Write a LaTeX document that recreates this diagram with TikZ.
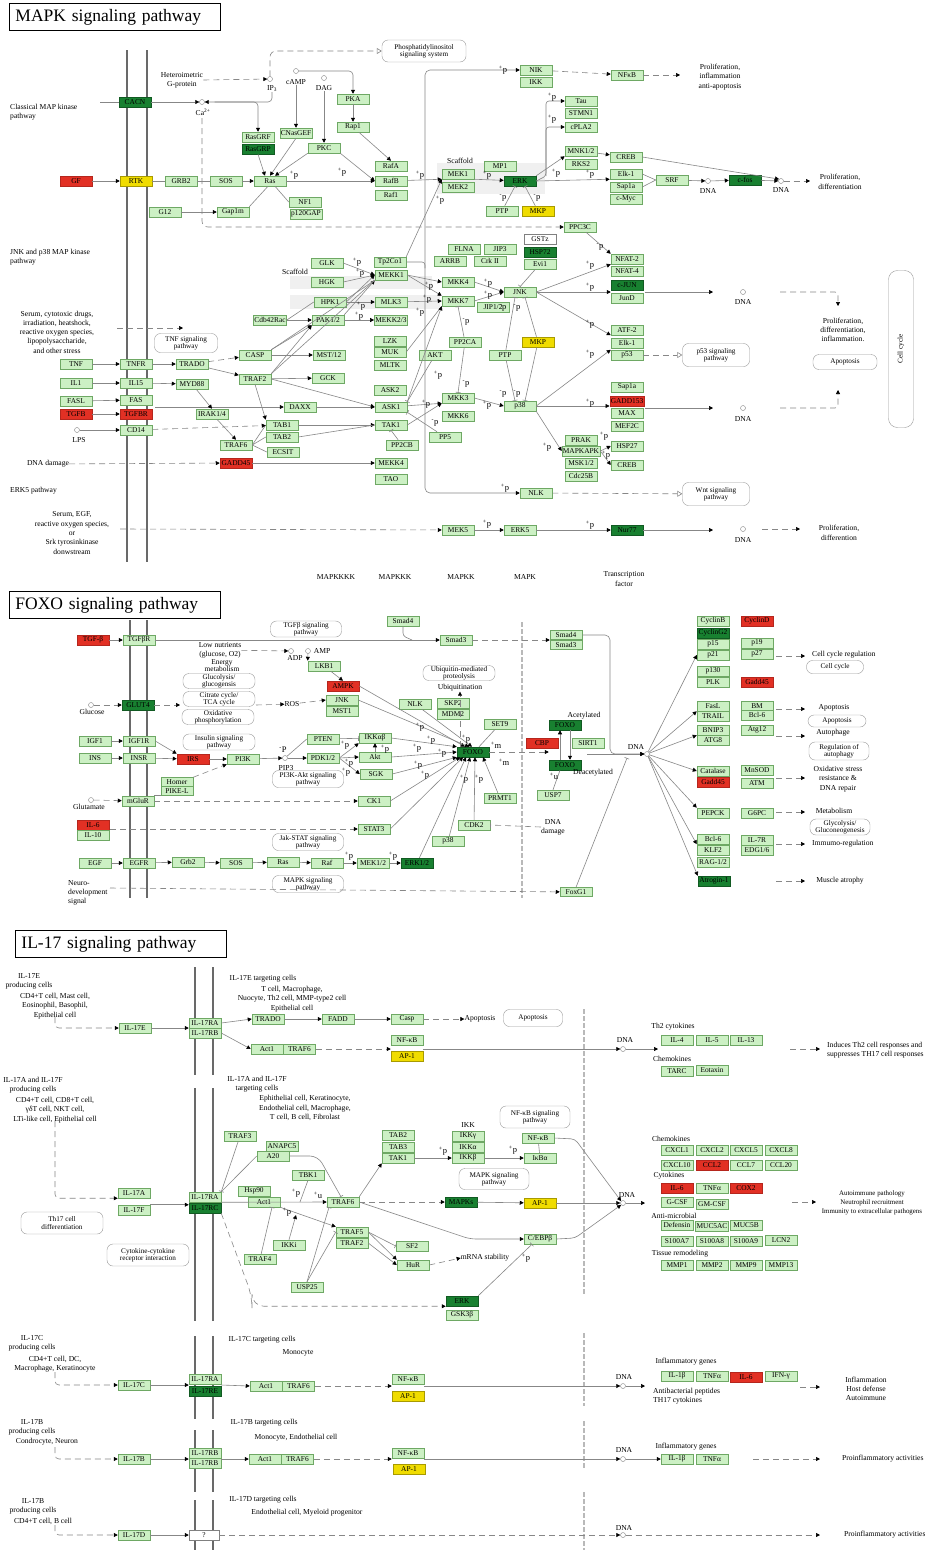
\documentclass[tikz,border=0pt]{standalone}
\usepackage{fontspec}
\setmainfont{Liberation Serif}
\usetikzlibrary{arrows.meta,positioning,shapes.geometric,calc}
\definecolor{kgl}{RGB}{204,240,196}
\definecolor{kgb}{RGB}{110,168,100}
\definecolor{kdg}{RGB}{24,128,48}
\definecolor{krd}{RGB}{226,48,36}
\definecolor{kyl}{RGB}{240,220,0}
\definecolor{kln}{RGB}{135,135,135}
\definecolor{kmb}{RGB}{105,105,105}
\begin{document}
\begin{tikzpicture}[x=1pt,y=-1pt,
  gn/.style={draw=kgb,fill=kgl,line width=0.5pt,minimum width=32pt,minimum height=10pt,inner xsep=1pt,inner ysep=0pt,font=\fontsize{7.4}{8}\selectfont},
  dg/.style={gn,fill=kdg,draw=kdg!70!black},
  rd/.style={gn,fill=krd,draw=krd!80!black},
  yl/.style={gn,fill=kyl,draw=kyl!70!black},
  wt/.style={gn,fill=white,draw=gray},
  pw/.style={draw=gray!80,fill=white,rounded corners=6pt,align=center,inner sep=0.5pt,font=\fontsize{7.2}{7.4}\selectfont},
  lbl/.style={align=center,inner sep=0pt,font=\fontsize{7.6}{9.3}\selectfont},
  ph/.style={inner sep=0pt,font=\fontsize{8.5}{8.5}\selectfont},
  dnac/.style={circle,draw=gray,fill=white,minimum size=5pt,inner sep=0pt},
  ln/.style={draw=kln,line width=0.6pt},
  ar/.style={ln,-{Triangle[length=4pt,width=4pt,color=black]}},
  da/.style={ln,dash pattern=on 6pt off 4pt},
  dar/.style={ar,dash pattern=on 6pt off 4pt},
  inh/.style={ln,-{Bar[width=5pt]}},
  dinh/.style={inh,dash pattern=on 6pt off 4pt},
  dop/.style={da,-{Triangle[open,length=5pt,width=6pt,fill=white]}},
  mb/.style={draw=kmb,line width=2.6pt},
  vd/.style={draw=gray!55,line width=2.6pt,dash pattern=on 5pt off 2pt},
  tl/.style={draw=black,line width=0.9pt,anchor=north west,text width=199pt,align=left,minimum height=27pt,inner xsep=6pt,font=\fontsize{17.5}{20}\selectfont}
]
\fill[white] (0,0) rectangle (925,1550);
\useasboundingbox (0,0) rectangle (925,1550);

% ================= MAPK signaling pathway =================
\node[tl] (m-title) at (9,3) {MAPK signaling pathway};
\draw[mb] (127,50) -- (127,562);
\draw[mb] (147,50) -- (147,562);
\fill[gray!12] (437,163) rectangle (545,194);
\fill[gray!12] (290,276) rectangle (432,289);
\fill[gray!12] (290,295) rectangle (440,309);

\node[lbl,anchor=west,align=left] (m-clt) at (10,112) {Classical MAP kinase\\pathway};
\coordinate (m-c0) at (100,102);
\node[dg] (m-cacn) at (135,102) {CACN};
\node[dnac] (m-ca) at (202,102) {};
\node[lbl] (m-cal) at (203,112) {Ca\textsuperscript{2+}};
\coordinate (m-d0) at (202,118);
\node[lbl] (m-hg) at (182,80) {Heteroimetric\\G-protein};
\node[dnac] (m-ip3) at (270,79) {};
\node[lbl] (m-ip3l) at (272,89) {IP\textsubscript{3}};
\node[pw,minimum width=84pt,minimum height=22pt] (m-pis) at (424,51) {Phosphatidylinositol\\signaling system};
\node[dnac] (m-camp) at (296,71) {};
\node[lbl] (m-campl) at (296,82) {cAMP};
\node[dnac] (m-dag) at (324,78) {};
\node[lbl] (m-dagl) at (324,88) {DAG};
\node[gn] (m-pka) at (353,99) {PKA};
\node[gn] (m-rap1) at (353,127) {Rap1};
\node[gn] (m-rasgrf) at (258,137) {RasGRF};
\node[dg] (m-rasgrp) at (258,149) {RasGRP};
\node[gn] (m-cnas) at (296,133) {CNasGEF};
\node[gn] (m-pkc) at (324,148) {PKC};
\node[rd] (m-gf) at (76,181) {GF};
\node[yl] (m-rtk) at (136,181) {RTK};
\node[gn] (m-grb2) at (181,181) {GRB2};
\node[gn] (m-sos) at (226,181) {SOS};
\node[gn] (m-ras) at (270,181) {Ras};
\node[gn] (m-nf1) at (305,202) {NF1};
\node[gn] (m-p120) at (306,214) {p120GAP};
\node[gn] (m-g12) at (165,212) {G12};
\node[gn] (m-gap1m) at (233,212) {Gap1m};
\node[gn] (m-rafa) at (391,166) {RafA};
\node[gn] (m-rafb) at (391,181) {RafB};
\node[gn] (m-raf1) at (391,195) {Raf1};
\node[lbl] (m-scf1) at (460,161) {Scaffold};
\node[gn] (m-mek1) at (458,174) {MEK1};
\node[gn] (m-mek2) at (458,187) {MEK2};
\node[gn] (m-mp1) at (500,166) {MP1};
\node[dg] (m-erk) at (520,181) {ERK};
\node[gn] (m-ptp1) at (502,211) {PTP};
\node[yl] (m-mkp1) at (538,211) {MKP};
\node[gn] (m-tau) at (581,101) {Tau};
\node[gn] (m-stmn) at (581,113) {STMN1};
\node[gn] (m-cpla) at (581,127) {cPLA2};
\node[gn] (m-mnk) at (581,151) {MNK1/2};
\node[gn] (m-rks2) at (581,164) {RKS2};
\node[gn] (m-creb1) at (626,157) {CREB};
\node[gn] (m-elk1) at (626,174) {Elk-1};
\node[gn] (m-sap1) at (626,187) {Sap1a};
\node[gn] (m-cmyc) at (626,199) {c-Myc};
\node[gn] (m-srf) at (672,180) {SRF};
\node[dnac] (m-dna1) at (708,181) {};
\node[lbl] (m-dna1l) at (708,191) {DNA};
\node[dg] (m-cfos) at (745,180) {c-fos};
\node[dnac] (m-dna2) at (781,181) {};
\node[lbl] (m-dna2l) at (781,190) {DNA};
\coordinate (m-o1) at (810,181);
\node[lbl] (m-pr1) at (840,182) {Proliferation,\\differentiation};
\node[gn] (m-nik) at (536,70) {NIK};
\node[gn] (m-ikk) at (536,82) {IKK};
\node[gn] (m-nfkb) at (627,75) {NFκB};
\coordinate (m-o2) at (680,75);
\node[lbl] (m-pr2) at (720,77) {Proliferation,\\inflammation\\anti-apoptosis};
\node[gn] (m-ppc) at (580,227) {PPC3C};
\coordinate (m-v0) at (425,268);

% JNK and p38
\node[lbl,anchor=west,align=left] (m-jnkt) at (10,257) {JNK and p38 MAP kinase\\pathway};
\node[lbl] (m-scf2) at (295,272) {Scaffold};
\node[gn] (m-glk) at (327,263) {GLK};
\node[gn] (m-hgk) at (327,282) {HGK};
\node[gn] (m-hpk1) at (330,302) {HPK1};
\node[gn] (m-pak) at (328,320) {PAK1/2};
\node[gn] (m-cdc42) at (270,320) {Cdb42Rac};
\node[gn] (m-mst) at (329,355) {MST/12};
\node[gn] (m-gck) at (328,378) {GCK};
\node[gn] (m-tp2) at (390,262) {Tp2Co1};
\node[gn] (m-mekk1) at (391,275) {MEKK1};
\node[gn] (m-mlk3) at (391,302) {MLK3};
\node[gn] (m-mekk23) at (391,320) {MEKK2/3};
\node[gn] (m-lzk) at (390,341) {LZK};
\node[gn] (m-muk) at (390,352) {MUK};
\node[gn] (m-mltk) at (390,365) {MLTK};
\node[gn] (m-ask2) at (390,390) {ASK2};
\node[gn] (m-ask1) at (391,407) {ASK1};
\node[gn] (m-tak1) at (391,425) {TAK1};
\node[gn] (m-pp2cb) at (402,445) {PP2CB};
\node[gn] (m-mekk4) at (391,463) {MEKK4};
\node[gn] (m-tao) at (391,479) {TAO};
\node[gn] (m-flna) at (464,249) {FLNA};
\node[gn] (m-jip3) at (500,249) {JIP3};
\node[gn] (m-arrb) at (450,261) {ARRB};
\node[gn] (m-crk) at (490,261) {Crk II};
\node[wt] (m-gstz) at (540,239) {GSTz};
\node[dg] (m-hsp72) at (540,252) {HSP72};
\node[gn] (m-evi1) at (540,264) {Evi1};
\node[gn] (m-mkk4) at (458,282) {MKK4};
\node[gn] (m-mkk7) at (458,301) {MKK7};
\node[gn] (m-jip12) at (493,307) {JIP1/2};
\node[gn] (m-jnk) at (520,292) {JNK};
\node[gn] (m-pp2ca) at (465,342) {PP2CA};
\node[yl] (m-mkp2) at (538,342) {MKP};
\node[gn] (m-ptp2) at (505,355) {PTP};
\node[gn] (m-akt) at (435,355) {AKT};
\node[gn] (m-mkk3) at (458,398) {MKK3};
\node[gn] (m-mkk6) at (458,416) {MKK6};
\node[gn] (m-pp5) at (445,437) {PP5};
\node[gn] (m-p38) at (520,406) {p38};
\node[gn] (m-nfat2) at (627,259) {NFAT-2};
\node[gn] (m-nfat4) at (627,271) {NFAT-4};
\node[dg] (m-cjun) at (627,285) {c-JUN};
\node[gn] (m-jund) at (627,298) {JunD};
\node[gn] (m-atf2) at (627,330) {ATF-2};
\node[gn] (m-elk2) at (627,343) {Elk-1};
\node[gn] (m-p53) at (627,355) {p53};
\node[gn] (m-sap2) at (627,387) {Sap1a};
\node[rd] (m-gadd153) at (627,401) {GADD153};
\node[gn] (m-max) at (627,413) {MAX};
\node[gn] (m-mef2c) at (627,426) {MEF2C};
\node[gn] (m-prak) at (581,440) {PRAK};
\node[gn] (m-mapkapk) at (581,451) {MAPKAPK};
\node[gn] (m-msk) at (581,463) {MSK1/2};
\node[gn] (m-cdc25b) at (581,476) {Cdc25B};
\node[gn] (m-hsp27) at (627,446) {HSP27};
\node[gn] (m-creb2) at (627,465) {CREB};
\node[gn] (m-nlk) at (536,493) {NLK};
\node[pw,minimum width=67pt,minimum height=23pt] (m-wnt) at (716,494) {Wnt signaling\\pathway};
\node[pw,minimum width=67pt,minimum height=23pt] (m-p53p) at (716,355) {p53 signaling\\pathway};
\coordinate (m-j1) at (645,292);
\coordinate (m-j2) at (713,292);
\node[dnac] (m-dna3) at (743,292) {};
\node[lbl] (m-dna3l) at (743,302) {DNA};
\coordinate (m-q1) at (780,292);
\coordinate (m-q2) at (838,306);
\coordinate (m-g1) at (645,408);
\coordinate (m-g2) at (713,408);
\node[dnac] (m-dna4) at (743,408) {};
\node[lbl] (m-dna4l) at (743,419) {DNA};
\coordinate (m-q3) at (780,408);
\coordinate (m-q4) at (838,390);
\node[lbl] (m-pr3) at (843,330) {Proliferation,\\differentiation,\\inflammation.};
\node[pw,minimum width=64pt,minimum height=15pt] (m-apo) at (845,362) {Apoptosis};
\node[pw,rotate=90,minimum width=157pt,minimum height=25pt,rounded corners=9pt] (m-cc) at (901,349) {Cell cycle};

\node[lbl] (m-stress) at (57,332) {Serum, cytotoxic drugs,\\irradiation, heatshock,\\reactive oxygen species,\\lipopolysaccharide,\\and other stress};
\coordinate (m-s0) at (117,328);
\coordinate (m-s1) at (183,328);
\node[pw,minimum width=63pt,minimum height=19pt] (m-tnfp) at (186,343) {TNF signaling\\pathway};
\node[gn] (m-tnf) at (76,364) {TNF};
\node[gn] (m-tnfr) at (136,364) {TNFR};
\node[gn] (m-trado) at (192,364) {TRADO};
\node[gn] (m-casp) at (255,355) {CASP};
\node[gn] (m-traf2) at (255,379) {TRAF2};
\node[gn] (m-il1) at (76,383) {IL1};
\node[gn] (m-il15) at (136,383) {IL15};
\node[gn] (m-myd88) at (192,384) {MYD88};
\node[gn] (m-fasl) at (76,401) {FASL};
\node[gn] (m-fas) at (136,400) {FAS};
\node[rd] (m-tgfb) at (76,414) {TGFB};
\node[rd] (m-tgfbr) at (136,414) {TGFBR};
\node[gn] (m-irak) at (212,414) {IRAK1/4};
\node[gn] (m-daxx) at (300,407) {DAXX};
\coordinate (m-f0) at (155,407);
\node[dnac] (m-lps) at (77,430) {};
\node[lbl] (m-lpsl) at (79,440) {LPS};
\node[gn] (m-cd14) at (136,430) {CD14};
\node[gn] (m-tab1) at (282,425) {TAB1};
\node[gn] (m-tab2) at (282,437) {TAB2};
\node[gn] (m-ecsit) at (283,452) {ECSIT};
\node[gn] (m-traf6) at (236,445) {TRAF6};
\node[lbl] (m-dnad) at (48,464) {DNA damage};
\node[rd] (m-gadd45) at (236,463) {GADD45};

% ERK5
\node[lbl,anchor=west] (m-erk5t) at (10,491) {ERK5 pathway};
\node[lbl] (m-serum) at (72,533) {Serum, EGF,\\reactive oxygen species,\\or\\Srk tyrosinkinase\\donwstream};
\coordinate (m-e0) at (120,529);
\node[gn] (m-mek5) at (458,530) {MEK5};
\node[gn] (m-erk5) at (520,530) {ERK5};
\node[dg] (m-nur77) at (627,530) {Nur77};
\coordinate (m-n5) at (713,530);
\node[dnac] (m-dna5) at (743,529) {};
\node[lbl] (m-dna5l) at (743,540) {DNA};
\coordinate (m-q5) at (762,529);
\coordinate (m-o5) at (800,529);
\node[lbl] (m-pr5) at (839,533) {Proliferation,\\differention};
\node[lbl] (m-k4) at (336,577) {MAPKKKK};
\node[lbl] (m-k3) at (395,577) {MAPKKK};
\node[lbl] (m-k2) at (461,577) {MAPKK};
\node[lbl] (m-k1) at (525,577) {MAPK};
\node[lbl] (m-tf) at (624,579) {Transcription\\factor};

% MAPK connectors
\draw[ln] (m-c0) -- (m-cacn);
\draw[ar] (m-cacn) -- (m-ca);
\draw[dar] (m-hg.east) -- (m-ip3);
\draw[dop,rounded corners=6] (m-ip3.north) |- (m-pis.west);
\draw[ar,rounded corners=4] (m-ip3l.south) |- (m-ca.east);
\draw[ar,rounded corners=4] ([xshift=10pt]m-ca.east) -| (m-rasgrf.north);
\draw[ar,rounded corners=4] (m-camp.east) -| (m-pka.north);
\draw[ar] (m-campl.south) -- (m-cnas.north);
\draw[ar] (m-dagl.south) -- (m-pkc.north);
\draw[ar] (m-pka) -- (m-rap1);
\draw[ar] (m-rap1) -- (m-rafa.north);
\draw[ar] (m-rasgrp.south) -- ([xshift=-5pt]m-ras.north);
\draw[ar] (m-cnas.south) -- (m-ras.north);
\draw[ar] (m-pkc.south west) -- ([xshift=5pt]m-ras.north);
\draw[ar] (m-pkc.south east) -- (m-rafb.west);
\draw[ar] (m-gf) -- (m-rtk);
\draw[ln] (m-rtk) -- (m-grb2);
\draw[ln] (m-grb2) -- (m-sos);
\draw[ar] (m-sos) -- (m-ras);
\draw[ar] (m-ras) -- (m-rafb);
\draw[ar] (m-g12) -- (m-gap1m);
\draw[ln] (m-gap1m.north east) -- ([xshift=-2pt]m-ras.south);
\draw[ln] (m-nf1.west) -- ([xshift=5pt]m-ras.south);
\draw[dar,rounded corners=6] (m-d0) |- (m-ppc.west);
\draw[ar] (m-rafb) -- (m-mek1.south west);
\draw[ar] (m-tp2.north east) -- (m-mek1.south west);
\draw[ar] (m-mek1.south east) -- (m-erk);
\draw[inh] (m-ptp1) -- ([xshift=-5pt]m-erk.south);
\draw[inh] (m-mkp1) -- ([xshift=5pt]m-erk.south);
\draw[ar] (m-erk.north east) -- (m-mnk.south west);
\draw[ar,rounded corners=3] (m-erk.east) -- (546,176) |- (m-tau.west);
\draw[ar,rounded corners=3] (546,176) |- (m-cpla.west);
\draw[ar] (m-erk.east) -- (m-elk1.south west);
\draw[ar] (m-mnk) -- (m-creb1);
\draw[ar] (m-creb1.east) -- (m-dna2.north west);
\draw[ln] (m-elk1.east) -- (m-srf.west);
\draw[ln] (m-sap1.east) -- (m-srf.west);
\draw[ar] (m-srf) -- (m-dna1);
\draw[ar] (m-dna1) -- (m-cfos);
\draw[ar] (m-cfos) -- (m-dna2);
\draw[dar] (m-dna2) -- (m-o1);
\draw[ar,rounded corners=5] (m-v0) |- (m-nik.west);
\draw[ar,rounded corners=5] (m-v0) |- (m-nlk.west);
\draw[ln,rounded corners=3] (m-tp2.east) -| (m-v0);
\draw[dar] (m-nik) -- (m-nfkb);
\draw[dar] (m-nfkb) -- (m-o2);
\draw[ar] (m-ppc) -- (m-nfat2.north west);

\draw[ar] (m-glk.east) -- (m-mekk1.west);
\draw[ar] (m-hgk.east) -- (m-mekk1.west);
\draw[ar] (m-hpk1.east) -- (m-mekk1.west);
\draw[ar] (m-hpk1.east) -- (m-mlk3.west);
\draw[ar] (m-pak.north east) -- (m-mekk1.south west);
\draw[ar] (m-pak.east) -- (m-mekk23.west);
\draw[ln] (m-cdc42.east) -- (m-hpk1.west);
\draw[ar] (m-cdc42.east) -- (m-pak.west);
\draw[ar] (m-casp.north east) -- (m-pak.south west);
\draw[ln] (m-casp.north east) -- (m-mekk1.south west);
\draw[ln] (m-traf2.north east) -- (m-mekk1.south west);
\draw[ar] (m-traf2.north east) -- (m-pak.south west);
\draw[ar] (m-casp) -- (m-mst);
\draw[ar] (m-traf2) -- (m-gck);
\draw[ar] (m-traf2.east) -- (m-ask1.west);
\draw[ar] (m-traf2.south) -- (m-tab1.north west);
\draw[ar] (m-f0) -- (m-daxx);
\draw[ar] (m-daxx) -- (m-ask1);
\draw[ar] (m-tab1) -- (m-tak1.west);
\draw[ln] (m-tab2.east) -- (m-tak1.west);
\draw[ln] (m-traf6.east) -- (m-tab1.west);
\draw[ln] (m-traf6.east) -- (m-tab2.west);
\draw[ln] (m-traf6.east) -- (m-ecsit.west);
\draw[ar] (m-myd88) -- (m-irak.north);
\draw[ar] (m-irak) -- (m-traf6.north);
\draw[dar] (m-cd14) -- (m-tab1);
\draw[dar] (m-dnad) -- (m-gadd45);
\draw[ar] (m-gadd45) -- (m-mekk4);
\draw[ar] (m-tnf) -- (m-tnfr);
\draw[ar] (m-il1) -- (m-il15);
\draw[ar] (m-fasl) -- (m-fas);
\draw[ar] (m-tgfb) -- (m-tgfbr);
\draw[ar] (m-lps) -- (m-cd14);
\draw[ar] (m-tnfr) -- (m-trado);
\draw[ar] (m-il15) -- (m-myd88);
\draw[dar] (m-trado) -- (m-casp);
\draw[ar] (m-trado) -- (m-traf2);
\draw[dar] (m-s0) -- (m-s1);
\draw[ar] (m-mekk1.east) -- (m-mkk4.west);
\draw[ar] (m-mekk1.east) -- (m-mkk7.north west);
\draw[ar] (m-mlk3) -- (m-mkk7.west);
\draw[ln] (m-muk.east) -- (m-mkk7.south west);
\draw[ar] (m-ask1.north east) -- (m-mkk7.south west);
\draw[inh] (m-akt) -- (m-ask1.north east);
\draw[ar] (m-ask1) -- (m-mkk3.south west);
\draw[ar] (m-tak1.east) -- (m-mkk3.south west);
\draw[inh] (m-pp5) -- (m-ask1.south east);
\draw[inh] (m-pp2cb) -- (m-tak1.south);
\draw[ar] (m-mkk4.east) -- (m-jnk.west);
\draw[ar] (m-mkk7.east) -- (m-jnk.west);
\draw[ar] (m-mkk3.east) -- (m-p38.west);
\draw[inh] (m-evi1) -- (m-jnk.north);
\draw[inh] (m-pp2ca) -- (m-mkk7.south);
\draw[inh] (m-pp2ca) -- (m-mkk3.north);
\draw[inh] (m-ptp2) -- ([xshift=-5pt]m-jnk.south);
\draw[inh] (m-ptp2) -- ([xshift=-5pt]m-p38.north);
\draw[inh] (m-mkp2) -- ([xshift=5pt]m-jnk.south);
\draw[inh] (m-mkp2) -- ([xshift=5pt]m-p38.north);
\draw[ar] (m-jnk.east) -- (m-nfat2.south west);
\draw[ar] (m-jnk.east) -- (m-jnk.east -| m-cjun.west);
\draw[ar] (m-jnk.east) -- (m-atf2.south west);
\draw[ar] (m-p38.east) -- (m-p53.north west);
\draw[ar] (m-p38.east) -- (m-p38.east -| m-gadd153.west);
\draw[ar] (m-p38.south east) -- (m-mapkapk.west);
\draw[ar] (m-mapkapk.east) -- (m-hsp27.west);
\draw[ar] (m-mapkapk.east) -- (m-creb2.west);
\draw[ar] (m-j1) -- (m-j2);
\draw[ar] (m-g1) -- (m-g2);
\draw[dar,rounded corners=3] (m-q1) -| (m-q2);
\draw[dar,rounded corners=3] (m-q3) -| (m-q4);
\draw[dop] (m-p53) -- (m-p53p);
\draw[dop] (m-nlk) -- (m-wnt);
\draw[dar] (m-e0) -- (m-mek5);
\draw[ar] (m-mek5) -- (m-erk5);
\draw[ar] (m-erk5) -- (m-nur77);
\draw[ar] (m-nur77) -- (m-n5);
\draw[dar] (m-q5) -- (m-o5);
\foreach \px/\py in {294/175,342/172,420/175,440/200,487/175,503/70,552/97,552/119,556/173,590/174,505/488,357/262,360/273,361/306,359/316,429/286,427/299,420/312,438/375,426/404,488/283,488/295,487/405,590/265,590/287,590/324,590/354,590/403,547/447,604/436,606/455,487/524,590/525}
  \node[ph] (mp-\px-\py) at (\px,\py) {\textsuperscript{+}p};
\foreach \px/\py in {503/198,537/198,600/247,466/322,466/384,503/308,517/308,503/394,517/394,435/423}
  \node[ph] (mm-\px-\py) at (\px,\py) {\textsuperscript{-}p};

% ================= FOXO signaling pathway =================
\node[tl] (f-title) at (9,591) {FOXO signaling pathway};
\draw[mb] (130,620) -- (130,898);
\draw[mb] (147,620) -- (147,898);
\draw[vd] (522,622) -- (522,898);
\node[rd] (f-tgfb) at (93,640) {TGF-β};
\node[gn] (f-tgfbr) at (139,640) {TGFβR};
\node[pw,minimum width=71pt,minimum height=16pt] (f-tgfp) at (306,629) {TGFβ signaling\\pathway};
\node[gn] (f-smad4) at (403,621) {Smad4};
\node[gn] (f-smad3) at (456,640) {Smad3};
\node[gn,minimum height=9pt] (f-smad4b) at (566,635) {Smad4};
\node[gn,minimum height=9pt,below=0pt of f-smad4b] (f-smad3b) {Smad3};
\node[lbl] (f-low) at (220,650) {Low nutrients\\(glucose, O2)};
\node[dnac] (f-adp) at (291,651) {};
\node[lbl] (f-adpl) at (295,658) {ADP};
\node[dnac] (f-amp) at (308,651) {};
\node[lbl] (f-ampl) at (322,651) {AMP};
\node[gn] (f-lkb1) at (324,666) {LKB1};
\node[rd] (f-ampk) at (343,686) {AMPK};
\node[lbl,font=\fontsize{7.4}{7}\selectfont] (f-enm) at (222,666) {Energy\\metabolism};
\node[pw,minimum width=72pt,minimum height=14pt] (f-gly) at (219,681) {Glucolysis/\\glucogensis};
\node[pw,minimum width=72pt,minimum height=14pt] (f-tca) at (219,699) {Citrate cycle/\\TCA cycle};
\node[pw,minimum width=72pt,minimum height=14pt] (f-oxp) at (218,717) {Oxidative\\phosphorylation};
\node[dnac] (f-glc) at (91,705) {};
\node[lbl] (f-glcl) at (92,712) {Glucose};
\node[dg] (f-glut4) at (138,705) {GLUT4};
\coordinate (f-g1) at (180,705);
\coordinate (f-g2) at (256,705);
\node[lbl] (f-ros) at (292,704) {ROS};
\node[gn] (f-jnk) at (342,700) {JNK};
\node[gn] (f-mst1) at (342,711) {MST1};
\node[gn] (f-igf1) at (95,741) {IGF1};
\node[gn] (f-igf1r) at (139,741) {IGF1R};
\node[gn] (f-ins) at (95,758) {INS};
\node[gn] (f-insr) at (139,758) {INSR};
\node[rd] (f-irs) at (193,759) {IRS};
\node[gn] (f-pi3k) at (243,759) {PI3K};
\node[pw,minimum width=72pt,minimum height=16pt] (f-insp) at (219,742) {Insulin signaling\\pathway};
\node[dnac] (f-pip3) at (285,758) {};
\node[lbl] (f-pip3l) at (286,768) {PIP3};
\node[ph] (f-mp) at (283,750) {\textsuperscript{-}P};
\node[gn] (f-pten) at (323,739) {PTEN};
\node[gn] (f-pdk) at (323,758) {PDK1/2};
\node[gn] (f-ikk) at (375,738) {IKKαβ};
\node[gn] (f-akt) at (375,757) {Akt};
\node[gn] (f-sgk) at (376,774) {SGK};
\node[pw,minimum width=71pt,minimum height=17pt] (f-pi3p) at (308,779) {PI3K-Akt signaling\\pathway};
\node[gn,minimum height=9pt] (f-homer) at (177,782) {Homer};
\node[gn,minimum height=9pt] (f-pikel) at (177,791) {PIKE-L};
\node[dnac] (f-glu) at (91,800) {};
\node[lbl] (f-glul) at (89,807) {Glutamate};
\node[gn] (f-mglur) at (138,801) {mGluR};
\node[gn] (f-ck1) at (374,801) {CK1};
\node[rd] (f-il6) at (93,825) {IL-6};
\node[gn] (f-il10) at (93,835) {IL-10};
\coordinate (f-i0) at (110,829);
\node[gn] (f-stat3) at (374,829) {STAT3};
\node[pw,minimum width=71pt,minimum height=17pt] (f-jakp) at (308,842) {Jak-STAT signaling\\pathway};
\node[gn] (f-egf) at (95,863) {EGF};
\node[gn] (f-egfr) at (139,863) {EGFR};
\node[gn] (f-grb2) at (188,862) {Grb2};
\node[gn] (f-sos) at (236,863) {SOS};
\node[gn] (f-ras) at (283,862) {Ras};
\node[gn] (f-raf) at (327,863) {Raf};
\node[gn] (f-mek) at (373,863) {MEK1/2};
\node[dg] (f-erk) at (417,863) {ERK1/2};
\node[pw,minimum width=71pt,minimum height=17pt] (f-mapkp) at (308,884) {MAPK signaling\\pathway};
\node[lbl,anchor=west,align=left] (f-neuro) at (68,893) {Neuro-\\development\\signal};
\coordinate (f-n0) at (110,888);
\node[gn,minimum height=9pt] (f-foxg1) at (576,892) {FoxG1};
\node[gn] (f-nlk) at (415,704) {NLK};
\node[gn] (f-skp2) at (453,703) {SKP2};
\node[gn] (f-mdm2) at (453,714) {MDM2};
\node[pw,minimum width=72pt,minimum height=15pt] (f-ubp) at (459,673) {Ubiquitin-mediated\\proteolysis};
\node[lbl] (f-ubq) at (460,688) {Ubiquitination};
\node[gn] (f-set9) at (500,724) {SET9};
\node[dg] (f-foxo) at (473,752) {FOXO};
\node[gn] (f-prmt1) at (500,798) {PRMT1};
\node[gn] (f-cdk2) at (474,825) {CDK2};
\node[gn] (f-p38) at (448,841) {p38};
\node[rd] (f-cbp) at (542,743) {CBP};
\node[dg] (f-foxoa) at (565,725) {FOXO};
\node[dg] (f-foxod) at (565,765) {FOXO};
\node[lbl] (f-acet) at (584,716) {Acetylated};
\node[lbl] (f-deac) at (593,773) {Deacetylated};
\node[gn] (f-sirt1) at (588,743) {SIRT1};
\node[gn] (f-usp7) at (553,795) {USP7};
\node[lbl] (f-dnad) at (553,827) {DNA\\damage};
\coordinate (f-k0) at (587,754);
\coordinate (f-k1) at (610,754);
\coordinate (f-k2) at (627,758);
\node[dnac] (f-dna) at (647,754) {};
\node[lbl] (f-dnal) at (636,747) {DNA};
% target genes
\node[gn] (f-cycb) at (713,621) {CyclinB};
\node[dg] (f-cycg2) at (713,633) {CyclinG2};
\node[gn] (f-p15) at (713,644) {p15};
\node[gn] (f-p21) at (713,655) {p21};
\node[gn] (f-p130) at (713,671) {p130};
\node[gn] (f-plk) at (713,682) {PLK};
\node[gn] (f-fasl) at (713,706) {FasL};
\node[gn] (f-trail) at (713,716) {TRAIL};
\node[gn] (f-bnip3) at (713,730) {BNIP3};
\node[gn] (f-atg8) at (713,740) {ATG8};
\node[gn] (f-cat) at (713,771) {Catalase};
\node[rd] (f-gadd1) at (713,782) {Gadd45};
\node[gn] (f-pepck) at (713,813) {PEPCK};
\node[gn] (f-bcl6a) at (713,839) {Bcl-6};
\node[gn] (f-klf2) at (713,850) {KLF2};
\node[gn] (f-rag) at (713,862) {RAG-1/2};
\node[dg] (f-atro) at (714,881) {Atrogin-1};
\node[rd] (f-cycd) at (757,621) {CyclinD};
\node[gn] (f-p19) at (757,643) {p19};
\node[gn] (f-p27) at (757,654) {p27};
\node[rd] (f-gadd2) at (757,682) {Gadd45};
\node[gn] (f-bm) at (757,706) {BM};
\node[gn] (f-bcl6b) at (757,715) {Bcl-6};
\node[gn] (f-atg12) at (757,730) {Atg12};
\node[gn] (f-mnsod) at (757,770) {MnSOD};
\node[gn] (f-atm) at (757,783) {ATM};
\node[gn] (f-g6pc) at (757,813) {G6PC};
\node[gn] (f-il7r) at (757,840) {IL-7R};
\node[gn] (f-edg) at (757,850) {EDG1/6};
\coordinate (f-r1a) at (776,656); \coordinate (f-r1b) at (805,656);
\coordinate (f-r2a) at (776,709); \coordinate (f-r2b) at (805,709);
\coordinate (f-r3a) at (776,736); \coordinate (f-r3b) at (805,736);
\coordinate (f-r4a) at (776,778); \coordinate (f-r4b) at (805,778);
\coordinate (f-r5a) at (776,812); \coordinate (f-r5b) at (805,812);
\coordinate (f-r6a) at (776,844); \coordinate (f-r6b) at (805,844);
\coordinate (f-r7a) at (776,881); \coordinate (f-r7b) at (805,881);
\node[lbl,anchor=west] (f-ccr) at (812,655) {Cell cycle regulation};
\node[pw,minimum width=57pt,minimum height=13pt] (f-cc) at (835,667) {Cell cycle};
\node[lbl] (f-apt) at (834,708) {Apoptosis};
\node[pw,minimum width=58pt,minimum height=12pt] (f-apo) at (837,721) {Apoptosis};
\node[lbl] (f-aut) at (833,733) {Autophage};
\node[pw,minimum width=60pt,minimum height=18pt] (f-rega) at (839,751) {Regulation of\\autophagy};
\node[lbl] (f-oxs) at (838,779) {Oxidative stress\\resistance \&\\DNA repair};
\node[lbl] (f-met) at (834,811) {Metabolism};
\node[pw,minimum width=60pt,minimum height=16pt] (f-glyc) at (840,827) {Glycolysis/\\Gluconeogenesis};
\node[lbl,anchor=west] (f-imm) at (812,844) {Immumo-regulation};
\node[lbl] (f-mus) at (840,881) {Muscle atrophy};

% FOXO connectors
\draw[ar] (f-tgfb) -- (f-tgfbr);
\draw[ar] (f-tgfbr) -- (f-smad3);
\draw[ln,rounded corners=3] (f-smad4.south) -- (403,636) -- (412,640);
\draw[dar] (f-smad3.east) -- (f-smad3.east -| f-smad4b.west);
\draw[ar,rounded corners=5] (f-smad4b.east) -| (f-k1) -- (f-dna.west);
\draw[dar] (f-foxo.east) -- (f-foxo.east -| f-foxoa.west);
\draw[ar] ([xshift=-5pt]f-foxod.north) -- ([xshift=-5pt]f-foxoa.south);
\draw[ar] ([xshift=5pt]f-foxoa.south) -- ([xshift=5pt]f-foxod.north);
\draw[ln] (f-usp7.north) -- ([xshift=-5pt]f-foxod.south);
\draw[ar] (f-k0) -- (f-dna.west);
\draw[inh] (f-foxg1.north) -- (f-k2);
\foreach \t in {f-p21.west,f-fasl.south west,f-bnip3.south west,f-cat.west,f-pepck.north west,f-bcl6a.south west,f-atro.north west}
  \draw[ar] (f-dna) -- (\t);
\foreach \ra/\rb in {f-r1a/f-r1b,f-r2a/f-r2b,f-r3a/f-r3b,f-r4a/f-r4b,f-r5a/f-r5b,f-r6a/f-r6b,f-r7a/f-r7b}
  \draw[dar] (\ra) -- (\rb);
\draw[dar] (f-low) -- (f-adp);
\draw[ar] (f-amp) -- (f-lkb1.north west);
\draw[ar] (f-lkb1) -- (f-ampk.north);
\draw[ar] (f-ampk.east) -- ([xshift=-8pt]f-foxo.north);
\draw[ar] (f-jnk.east) -- ([xshift=-4pt]f-foxo.north);
\draw[ar] (f-nlk) -- ([xshift=-1pt]f-foxo.north);
\draw[dar] ([xshift=-13pt]f-foxo.north) -- (f-ubq.south);
\draw[ln] (f-set9) -- ([xshift=6pt]f-foxo.north);
\draw[ar] (f-prmt1) -- ([xshift=10pt]f-foxo.south);
\draw[ar] (f-cdk2) -- ([xshift=2pt]f-foxo.south);
\draw[ar] (f-p38) -- ([xshift=-3pt]f-foxo.south);
\draw[ar] (f-erk) -- ([xshift=-7pt]f-foxo.south);
\draw[ar] (f-stat3.east) -- ([xshift=-10pt]f-foxo.south);
\draw[ar] (f-ck1.east) -- ([xshift=-13pt]f-foxo.south);
\draw[ar] (f-sgk.east) -- (f-foxo.south west);
\draw[ar] (f-akt.east) -- (f-foxo.west);
\draw[ar] (f-ikk.east) -- (f-foxo.north west);
\draw[ar] (f-egf) -- (f-egfr);
\draw[ar] (f-egfr) -- (f-grb2);
\draw[ar] (f-grb2) -- (f-sos);
\draw[ar] (f-sos) -- (f-ras);
\draw[ar] (f-ras) -- (f-raf);
\draw[ar] (f-raf) -- (f-mek);
\draw[ar] (f-mek) -- (f-erk);
\draw[dar] (f-n0) -- (f-foxg1);
\draw[dar] (f-glu) -- (f-mglur);
\draw[dar] (f-mglur) -- (f-ck1);
\draw[ln] (f-mglur.north east) -- (f-pikel.south west);
\draw[dar] (f-homer.north east) -- (f-pi3k.south west);
\draw[dar] (f-glc) -- (f-glut4);
\draw[dar] (f-glut4) -- (f-g1);
\draw[dar] (f-g2) -- (f-ros);
\draw[dar] (f-ros) -- (f-jnk.west);
\draw[ar] (f-igf1) -- (f-igf1r);
\draw[ar] (f-ins) -- (f-insr);
\draw[ar] (f-igf1r.east) -- (f-irs.north west);
\draw[ar] (f-insr) -- (f-irs);
\draw[ar] (f-irs) -- (f-pi3k);
\draw[ar] (f-pi3k) -- (f-pip3);
\draw[ar] (f-pip3) -- (f-pdk);
\draw[ln] (f-pip3) -- (f-pten.west);
\draw[inh] (f-pten) -- (f-ikk);
\draw[ar] (f-pdk.east) -- (f-ikk.south west);
\draw[ar] (f-pdk.east) -- (f-akt.west);
\draw[ar] (f-pdk.east) -- (f-sgk.west);
\draw[ar] (f-akt.north) -- (f-ikk.south);
\draw[dar] (f-i0) -- (f-stat3);
\draw[dinh] (f-dnad.west) -- (f-cdk2.east);
\foreach \px/\py in {349/856,393/856,420/727,431/740,417/748,442/753,418/765,425/775,464/779,479/779,345/745,349/763,346/772,385/749,466/739}
  \node[ph] (fp-\px-\py) at (\px,\py) {\textsuperscript{+}p};
\node[ph] (f-m1) at (496,745) {\textsuperscript{+}m};
\node[ph] (f-m2) at (504,762) {\textsuperscript{+}m};
\node[ph] (f-u1) at (554,776) {\textsuperscript{+}u};

% ================= IL-17 signaling pathway =================
\node[tl] (i-title) at (15,930) {IL-17 signaling pathway};
\foreach \ya/\yb in {967/1075,1088/1321,1336/1419,1430/1492,1500/1550}
  {\draw[mb] (195,\ya) -- (195,\yb); \draw[mb] (213,\ya) -- (213,\yb);}
\foreach \ya/\yb in {1009/1295,1333/1406,1421/1468,1492/1550}
  \draw[vd] (584,\ya) -- (584,\yb);

% IL-17E
\node[lbl] (i-et) at (29,981) {IL-17E\\producing cells};
\node[lbl] (i-esrc) at (55,1006) {CD4+T cell, Mast cell,\\Eosinophil, Basophil,\\Epithelial cell};
\coordinate (i-e0) at (55,1017);
\node[gn] (i-il17e) at (135,1028) {IL-17E};
\node[gn] (i-ra1) at (205,1023) {IL-17RA};
\node[gn] (i-rb1) at (205,1033) {IL-17RB};
\node[lbl] (i-ett) at (263,979) {IL-17E targeting cells};
\node[lbl] (i-etc) at (292,999) {T cell, Macrophage,\\Nuocyte, Th2 cell, MMP-type2 cell\\Epithelial cell};
\node[gn] (i-trado) at (268,1019) {TRADO};
\node[gn] (i-fadd) at (338,1019) {FADD};
\node[gn] (i-casp) at (407,1019) {Casp};
\node[lbl] (i-apot) at (480,1019) {Apoptosis};
\node[pw,minimum width=59pt,minimum height=17pt] (i-apo) at (533,1018) {Apoptosis};
\node[gn] (i-act1a) at (267,1049) {Act1};
\node[gn,anchor=west] (i-traf6a) at (i-act1a.east) {TRAF6};
\node[gn] (i-nfkb1) at (407,1040) {NF-κB};
\node[yl] (i-ap1a) at (407,1056) {AP-1};
\node[dnac] (i-dna1) at (623,1049) {};
\node[lbl] (i-dna1l) at (625,1040) {DNA};
\coordinate (i-o1) at (658,1049);
\node[lbl] (i-th2) at (673,1027) {Th2 cytokines};
\node[gn] (i-il4) at (677,1040) {IL-4};
\node[gn] (i-il5) at (712,1040) {IL-5};
\node[gn] (i-il13) at (746,1040) {IL-13};
\node[lbl] (i-chem1) at (672,1059) {Chemokines};
\node[gn] (i-tarc) at (677,1071) {TARC};
\node[gn] (i-eotx) at (712,1070) {Eotaxin};
\coordinate (i-q1) at (790,1049);
\coordinate (i-q2) at (820,1049);
\node[lbl,anchor=west,align=left] (i-ind) at (827,1050) {Induces Th2 cell responses and\\suppresses TH17 cell responses};
\draw[dar,rounded corners=4] (i-e0) |- (i-il17e.west);
\draw[ar] (i-il17e.east) -- (i-il17e.east -| i-ra1.west);
\draw[ar] (i-ra1.east) -- (i-trado.west);
\draw[ar] (i-rb1.east) -- (i-act1a.west);
\draw[ar] (i-trado) -- (i-fadd);
\draw[ar] (i-fadd) -- (i-casp);
\draw[dar] (i-casp) -- (i-apot);
\draw[dar] (i-traf6a.east) -- (i-traf6a.east -| i-nfkb1.west);
\draw[ar] (i-nfkb1.east |- i-dna1) -- (i-dna1);
\draw[ar] (i-dna1) -- (i-o1);
\draw[dar] (i-q1) -- (i-q2);

% IL-17A and IL-17F
\node[lbl] (i-at) at (33,1085) {IL-17A and IL-17F\\producing cells};
\node[lbl] (i-asrc) at (55,1110) {CD4+T cell, CD8+T cell,\\γδT cell, NKT cell,\\LTi-like cell, Epithelial cell};
\coordinate (i-a0) at (55,1121);
\node[gn] (i-il17a) at (134,1193) {IL-17A};
\node[gn] (i-il17f) at (134,1210) {IL-17F};
\node[gn] (i-ra2) at (205,1197) {IL-17RA};
\node[dg] (i-rc2) at (205,1208) {IL-17RC};
\node[pw,minimum width=82pt,minimum height=22pt] (i-th17) at (62,1223) {Th17 cell\\differentiation};
\node[pw,minimum width=82pt,minimum height=22pt] (i-ccri) at (148,1255) {Cytokine-cytokine\\receptor interaction};
\node[lbl] (i-att) at (257,1084) {IL-17A and IL-17F\\targeting cells};
\node[lbl] (i-atc) at (305,1108) {Ephithelial cell, Keratinocyte,\\Endothelial cell, Macrophage,\\T cell, B cell, Fibrolast};
\node[gn] (i-traf3) at (240,1136) {TRAF3};
\node[gn] (i-anapc5) at (282,1146) {ANAPC5};
\node[gn] (i-a20) at (273,1156) {A20};
\node[gn] (i-tbk1) at (308,1175) {TBK1};
\node[gn] (i-hsp90) at (254,1191) {Hsp90};
\node[gn] (i-act1b) at (264,1202) {Act1};
\node[gn] (i-traf6b) at (343,1202) {TRAF6};
\node[gn] (i-ikki) at (289,1245) {IKKi};
\node[gn] (i-traf4) at (260,1259) {TRAF4};
\node[gn] (i-traf5) at (352,1232) {TRAF5};
\node[gn] (i-traf2) at (352,1243) {TRAF2};
\node[gn] (i-sf2) at (412,1246) {SF2};
\node[gn] (i-hur) at (413,1265) {HuR};
\node[lbl] (i-mrna) at (485,1258) {mRNA stability};
\node[gn] (i-usp25) at (307,1287) {USP25};
\node[gn] (i-tab2) at (398,1135) {TAB2};
\node[gn] (i-tab3) at (398,1147) {TAB3};
\node[gn] (i-tak1) at (398,1158) {TAK1};
\node[lbl] (i-ikkt) at (468,1125) {IKK};
\node[gn] (i-ikkg) at (468,1136) {IKKγ};
\node[gn] (i-ikka) at (468,1147) {IKKα};
\node[gn] (i-ikkb) at (468,1158) {IKKβ};
\node[gn] (i-nfkb2) at (538,1138) {NF-κB};
\node[gn] (i-ikba) at (540,1158) {IκBα};
\node[pw,minimum width=70pt,minimum height=22pt] (i-nfkp) at (535,1117) {NF-κB signaling\\pathway};
\node[pw,minimum width=70pt,minimum height=21pt] (i-mapkp) at (494,1179) {MAPK signaling\\pathway};
\node[dg] (i-mapks) at (461,1202) {MAPKs};
\node[yl] (i-ap1b) at (540,1203) {AP-1};
\node[gn] (i-cebp) at (540,1239) {C/EBPβ};
\node[dg] (i-erk) at (462,1301) {ERK};
\node[gn] (i-gsk) at (462,1315) {GSK3β};
\coordinate (i-j1) at (300,1202);
\coordinate (i-j2) at (296,1215);
\coordinate (i-k1) at (575,1139);
\coordinate (i-k2) at (470,1239);
\coordinate (i-k3) at (575,1238);
\coordinate (i-k4) at (252,1296);
\node[dnac] (i-dna2) at (623,1203) {};
\node[lbl] (i-dna2l) at (627,1195) {DNA};
\coordinate (i-o2) at (645,1203);
\node[lbl] (i-chem2) at (671,1139) {Chemokines};
\node[gn] (i-cxcl1) at (677,1150) {CXCL1};
\node[gn] (i-cxcl2) at (712,1150) {CXCL2};
\node[gn] (i-cxcl5) at (746,1150) {CXCL5};
\node[gn] (i-cxcl8) at (781,1150) {CXCL8};
\node[gn] (i-cxcl10) at (677,1165) {CXCL10};
\node[rd] (i-ccl2) at (712,1165) {CCL2};
\node[gn] (i-ccl7) at (746,1165) {CCL7};
\node[gn] (i-ccl20) at (781,1165) {CCL20};
\node[lbl] (i-cyt) at (669,1176) {Cytokines};
\node[rd] (i-il6a) at (677,1188) {IL-6};
\node[gn] (i-tnfa1) at (712,1188) {TNFα};
\node[rd] (i-cox2) at (746,1188) {COX2};
\node[gn] (i-gcsf) at (677,1202) {G-CSF};
\node[gn] (i-gmcsf) at (712,1204) {GM-CSF};
\node[lbl] (i-amic) at (674,1216) {Anti-microbial};
\node[gn] (i-def) at (677,1225) {Defensin};
\node[gn] (i-muc5ac) at (712,1226) {MUC5AC};
\node[gn] (i-muc5b) at (746,1225) {MUC5B};
\node[gn] (i-s100a7) at (677,1241) {S100A7};
\node[gn] (i-s100a8) at (712,1241) {S100A8};
\node[gn] (i-s100a9) at (746,1241) {S100A9};
\node[gn] (i-lcn2) at (781,1240) {LCN2};
\node[lbl] (i-tisr) at (680,1254) {Tissue remodeling};
\node[gn] (i-mmp1) at (677,1265) {MMP1};
\node[gn] (i-mmp2) at (712,1265) {MMP2};
\node[gn] (i-mmp9) at (746,1265) {MMP9};
\node[gn] (i-mmp13) at (781,1265) {MMP13};
\coordinate (i-q3) at (792,1202);
\coordinate (i-q4) at (816,1202);
\node[lbl,font=\fontsize{6.9}{9}\selectfont] (i-auto) at (872,1203) {Autoimmune pathology\\Neutrophil recruitment\\Immunity to extracellular pathogens};
\draw[dar,rounded corners=4] (i-a0) |- (i-il17a.south west);
\draw[ar] (i-il17f.north east) -- (i-il17f.north east -| i-ra2.west);
\draw[ar] (i-ra2.south east) -- (i-traf6b.west);
\draw[ln] (i-ra2.north east) -- (i-a20.west);
\draw[inh] (i-traf3) -- (i-ra2.north east);
\draw[inh,rounded corners=8] (i-a20.east) -- (318,1156) -- ([xshift=-2pt]i-traf6b.north);
\draw[ln] (i-tbk1.south) -- (i-j1);
\draw[ar] (i-act1b.south east) -- (i-traf5.north west);
\draw[ar] (i-ikki.north) -- (i-j2);
\draw[inh] (i-traf4) -- ([xshift=8pt]i-act1b.south);
\draw[ar] (i-traf6b.north east) -- (i-tak1.south west);
\draw[ar] (i-tak1) -- (i-ikkb);
\draw[ar] (i-ikkb) -- (i-ikba);
\draw[ln] (i-ikba) -- (i-nfkb2);
\draw[ar,rounded corners=4] (i-nfkb2.east) -- (i-k1) -- (i-dna2.north west);
\draw[dar] (i-traf6b.east) -- (i-mapks.west);
\draw[ar] (i-mapks) -- (i-ap1b);
\draw[ar] (i-ap1b) -- (i-dna2);
\draw[ar,rounded corners=6] (i-traf6b.east) -- (i-k2) -- (i-cebp.west);
\draw[ar,rounded corners=4] (i-cebp.east) -- (i-k3) -- (i-dna2.south west);
\draw[inh] (i-erk.north east) -- ([xshift=-8pt]i-cebp.south);
\draw[dar,rounded corners=12] (i-rc2.south east) -- (i-k4) |- (i-erk.south west);
\draw[ar] (i-traf5.east) -- (i-hur.north west);
\draw[ar] (i-traf2.east) -- (i-hur.west);
\draw[inh] (i-traf5.east) -- (i-sf2.west);
\draw[dar] (i-hur.east) -- (i-mrna.west);
\draw[inh] (i-usp25.north) -- ([xshift=-14pt]i-traf6b.south);
\draw[inh] (i-usp25.north) -- (i-traf5.west);
\draw[ar] (i-dna2) -- (i-o2);
\draw[dar] (i-q3) -- (i-q4);
\foreach \px/\py in {443/1151,513/1150,296/1193,287/1212,526/1258}
  \node[ph] (ip-\px-\py) at (\px,\py) {\textsuperscript{+}p};
\node[ph] (i-u1) at (318,1195) {\textsuperscript{+}u};

% IL-17C
\node[lbl] (i-ct) at (32,1343) {IL-17C\\producing cells};
\node[lbl] (i-csrc) at (55,1364) {CD4+T cell, DC,\\Macrophage, Keratinocyte};
\coordinate (i-c0) at (55,1372);
\node[gn] (i-il17c) at (134,1385) {IL-17C};
\node[gn] (i-ra3) at (205,1379) {IL-17RA};
\node[dg] (i-re3) at (205,1391) {IL-17RE};
\node[lbl] (i-ctt) at (262,1340) {IL-17C targeting cells};
\node[lbl] (i-ctc) at (298,1353) {Monocyte};
\node[gn] (i-act1c) at (266,1386) {Act1};
\node[gn,anchor=west] (i-traf6c) at (i-act1c.east) {TRAF6};
\node[gn] (i-nfkb3) at (408,1379) {NF-κB};
\node[yl] (i-ap1c) at (408,1396) {AP-1};
\node[dnac] (i-dna3) at (623,1386) {};
\node[lbl] (i-dna3l) at (624,1377) {DNA};
\coordinate (i-o3) at (645,1386);
\node[lbl] (i-infg1) at (686,1362) {Inflammatory genes};
\node[gn] (i-il1b1) at (677,1376) {IL-1β};
\node[gn] (i-tnfa2) at (712,1376) {TNFα};
\node[rd] (i-il6b) at (746,1377) {IL-6};
\node[gn] (i-ifng) at (781,1376) {IFN-γ};
\node[lbl,anchor=west,align=left] (i-abp) at (653,1396) {Antibacterial peptides\\TH17 cytokines};
\coordinate (i-q5) at (800,1387);
\coordinate (i-q6) at (820,1387);
\node[lbl] (i-infl) at (866,1389) {Inflammation\\Host defense\\Autoimmune};
\draw[dar,rounded corners=4] (i-c0) |- (i-il17c.west);
\draw[ar] (i-il17c.east) -- (i-il17c.east -| i-ra3.west);
\draw[ar] (i-il17c.east -| i-ra3.east) -- (i-act1c.west);
\draw[dar] (i-traf6c.east) -- (i-traf6c.east -| i-nfkb3.west);
\draw[ar] (i-nfkb3.east |- i-dna3) -- (i-dna3);
\draw[ar] (i-dna3) -- (i-o3);
\draw[dar] (i-q5) -- (i-q6);

% IL-17B
\node[lbl] (i-bt) at (32,1427) {IL-17B\\producing cells};
\node[lbl] (i-bsrc) at (47,1442) {Condrocyte, Neuron};
\coordinate (i-b0) at (55,1447);
\node[gn] (i-il17b) at (134,1459) {IL-17B};
\node[gn] (i-rb4) at (205,1453) {IL-17RB};
\node[gn] (i-rb5) at (205,1463) {IL-17RB};
\node[lbl] (i-btt) at (264,1423) {IL-17B targeting cells};
\node[lbl] (i-btc) at (296,1438) {Monocyte, Endothelial cell};
\node[gn] (i-act1d) at (265,1459) {Act1};
\node[gn,anchor=west] (i-traf6d) at (i-act1d.east) {TRAF6};
\node[gn] (i-nfkb4) at (408,1453) {NF-κB};
\node[yl] (i-ap1d) at (409,1469) {AP-1};
\node[dnac] (i-dna4) at (623,1459) {};
\node[lbl] (i-dna4l) at (624,1450) {DNA};
\node[lbl] (i-infg2) at (686,1447) {Inflammatory genes};
\node[gn] (i-il1b2) at (677,1459) {IL-1β};
\node[gn] (i-tnfa3) at (712,1459) {TNFα};
\coordinate (i-q7) at (753,1459);
\coordinate (i-q8) at (820,1459);
\node[lbl,anchor=west] (i-pro1) at (842,1459) {Proinflammatory activities};
\draw[dar,rounded corners=4] (i-b0) |- (i-il17b.west);
\draw[ar] (i-il17b.east) -- (i-il17b.east -| i-rb4.west);
\draw[ar] (i-il17b.east -| i-rb4.east) -- (i-act1d.west);
\draw[dar] (i-traf6d.east) -- (i-traf6d.east -| i-nfkb4.west);
\draw[ar] (i-nfkb4.east |- i-dna4) -- (i-dna4);
\draw[ar] (i-dna4) -- (i-il1b2.west);
\draw[dar] (i-q7) -- (i-q8);

% IL-17D
\node[lbl] (i-dt) at (33,1506) {IL-17B\\producing cells};
\node[lbl] (i-dsrc) at (43,1521) {CD4+T cell, B cell};
\coordinate (i-d0) at (55,1525);
\node[gn] (i-il17d) at (134,1535) {IL-17D};
\node[wt,minimum width=30pt] (i-unk) at (204,1535) {?};
\node[lbl] (i-dtt) at (263,1500) {IL-17D targeting cells};
\node[lbl] (i-dtc) at (307,1513) {Endothelial cell, Myeloid progenitor};
\node[dnac] (i-dna5) at (623,1535) {};
\node[lbl] (i-dna5l) at (624,1528) {DNA};
\coordinate (i-q9) at (820,1535);
\node[lbl,anchor=west] (i-pro2) at (844,1535) {Proinflammatory activities};
\draw[dar,rounded corners=4] (i-d0) |- (i-il17d.west);
\draw[ar] (i-il17d) -- (i-unk);
\draw[dar] (i-unk) -- (i-dna5);
\draw[dar] (i-dna5) -- (i-q9);
\end{tikzpicture}
\end{document}
